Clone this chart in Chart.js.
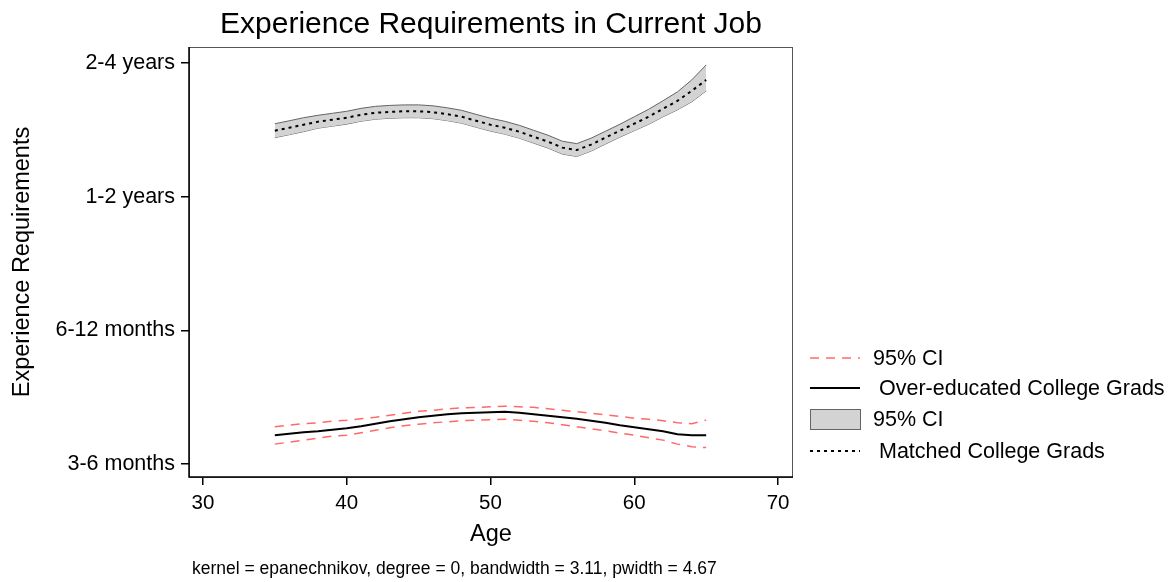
<!DOCTYPE html>
<html>
<head>
<meta charset="utf-8">
<script src="https://cdn.jsdelivr.net/npm/chart.js@4/dist/chart.umd.min.js"></script>
<style>
  html, body { margin: 0; padding: 0; background: #ffffff; }
  #wrap { position: relative; width: 1174px; height: 582px; }
  canvas { display: block; }
</style>
</head>
<body>
<div id="wrap"><canvas id="c" width="1174" height="582"></canvas></div>
<script>
// Local polynomial smooth of experience requirements by age
const ages = [35,36,37,38,39,40,41,42,43,44,45,46,47,48,49,50,51,52,53,54,55,56,57,58,59,60,61,62,63,64,65];

// Matched college grads: smoothed mean and 95% CI band
const matchedMean = [3.494,3.516,3.539,3.561,3.576,3.591,3.613,3.628,3.635,3.639,3.639,3.632,3.617,3.598,3.568,3.539,3.516,3.486,3.449,3.412,3.367,3.349,3.390,3.442,3.494,3.546,3.598,3.658,3.717,3.792,3.874];
const matchedHi   = [3.546,3.568,3.591,3.609,3.624,3.639,3.661,3.676,3.683,3.687,3.687,3.680,3.665,3.646,3.616,3.587,3.564,3.534,3.497,3.460,3.415,3.397,3.438,3.490,3.542,3.598,3.654,3.718,3.784,3.874,3.986];
const matchedLo   = [3.442,3.464,3.487,3.513,3.528,3.543,3.565,3.580,3.587,3.591,3.591,3.584,3.569,3.550,3.520,3.491,3.468,3.438,3.401,3.364,3.319,3.301,3.342,3.394,3.446,3.494,3.542,3.598,3.650,3.710,3.792];

// Over-educated college grads: smoothed mean and 95% CI
const overMean = [1.216,1.227,1.238,1.246,1.257,1.268,1.283,1.302,1.320,1.335,1.350,1.361,1.372,1.380,1.383,1.387,1.391,1.383,1.372,1.361,1.350,1.339,1.324,1.309,1.290,1.275,1.261,1.246,1.223,1.216,1.216];
const overHi   = [1.279,1.290,1.302,1.309,1.320,1.328,1.339,1.350,1.365,1.380,1.395,1.402,1.413,1.421,1.424,1.428,1.432,1.428,1.424,1.413,1.402,1.391,1.380,1.368,1.357,1.342,1.335,1.324,1.309,1.302,1.328];
const overLo   = [1.149,1.164,1.179,1.194,1.208,1.216,1.234,1.253,1.272,1.287,1.298,1.309,1.316,1.324,1.328,1.331,1.335,1.328,1.320,1.309,1.294,1.279,1.264,1.249,1.231,1.216,1.197,1.179,1.149,1.130,1.123];

// Axis ticks
const yTickValues = [1, 2, 3, 4];
const yTickLabels = ['3-6 months', '6-12 months', '1-2 years', '2-4 years'];
const xTickValues = [30, 40, 50, 60, 70];

const titleText = 'Experience Requirements in Current Job';
const xTitle = 'Age';
const yTitle = 'Experience Requirements';
const noteText = 'kernel = epanechnikov, degree = 0, bandwidth = 3.11, pwidth = 4.67';
const legendLabels = ['95% CI', ' Over-educated College Grads', '95% CI', ' Matched College Grads'];

const FONT = '"Liberation Sans", Arial, sans-serif';
const RED = 'rgb(255,105,105)';
const BAND_FILL = 'rgb(211,211,211)';
const BAND_EDGE = 'rgb(100,100,100)';

const pts = arr => ages.map((a, i) => ({ x: a, y: arr[i] }));

// Plot frame, title, notes and legend drawn around the chart area
const decor = {
  id: 'decor',
  afterDraw(chart) {
    const ctx = chart.ctx;
    const a = chart.chartArea;
    ctx.save();
    // outer frame of the plot region
    ctx.strokeStyle = '#555';
    ctx.lineWidth = 1;
    ctx.strokeRect(a.left + 0.5, a.top + 0.5, a.right - a.left - 1, a.bottom - a.top);
    // axis spines
    ctx.strokeStyle = '#000';
    ctx.lineWidth = 1.5;
    ctx.beginPath();
    ctx.moveTo(a.left, a.top);
    ctx.lineTo(a.left, a.bottom);
    ctx.lineTo(a.right, a.bottom);
    ctx.stroke();

    ctx.fillStyle = '#000';
    ctx.textBaseline = 'alphabetic';
    // title
    ctx.font = '30px ' + FONT;
    ctx.textAlign = 'center';
    ctx.fillText(titleText, (a.left + a.right) / 2, 33);
    // x title
    ctx.font = '23.5px ' + FONT;
    ctx.fillText(xTitle, (a.left + a.right) / 2, 541);
    // y title
    ctx.save();
    ctx.translate(29, (a.top + a.bottom) / 2);
    ctx.rotate(-Math.PI / 2);
    ctx.fillText(yTitle, 0, 0);
    ctx.restore();
    // note
    ctx.font = '17.5px ' + FONT;
    ctx.textAlign = 'left';
    ctx.fillText(noteText, 192, 574);

    // legend
    const lx = 810, lw = 50, tx = 873;
    const rows = [358, 388, 419, 451];
    ctx.font = '21.5px ' + FONT;
    // red dashed
    ctx.strokeStyle = RED; ctx.lineWidth = 1.5; ctx.setLineDash([9, 7]);
    ctx.beginPath(); ctx.moveTo(lx, rows[0]); ctx.lineTo(lx + lw, rows[0]); ctx.stroke();
    // solid black
    ctx.setLineDash([]); ctx.strokeStyle = '#000'; ctx.lineWidth = 2;
    ctx.beginPath(); ctx.moveTo(lx, rows[1]); ctx.lineTo(lx + lw, rows[1]); ctx.stroke();
    // gray box
    ctx.fillStyle = BAND_FILL; ctx.fillRect(lx, rows[2] - 10, lw, 20);
    ctx.strokeStyle = BAND_EDGE; ctx.lineWidth = 1; ctx.strokeRect(lx + 0.5, rows[2] - 10 + 0.5, lw, 20);
    // dotted
    ctx.strokeStyle = '#000'; ctx.lineWidth = 2; ctx.setLineDash([3, 4]);
    ctx.beginPath(); ctx.moveTo(lx, rows[3]); ctx.lineTo(lx + lw, rows[3]); ctx.stroke();
    ctx.setLineDash([]);
    ctx.fillStyle = '#000';
    ctx.textBaseline = 'middle';
    legendLabels.forEach((t, i) => ctx.fillText(t, tx, rows[i] + 1));
    ctx.restore();
  }
};

new Chart(document.getElementById('c'), {
  type: 'line',
  data: {
    datasets: [
      { data: pts(matchedLo), borderColor: BAND_EDGE, borderWidth: 1, pointRadius: 0, fill: false, tension: 0, order: 10 },
      { data: pts(matchedHi), borderColor: BAND_EDGE, borderWidth: 1, pointRadius: 0, fill: '-1', backgroundColor: BAND_FILL, tension: 0, order: 9 },
      { data: pts(matchedMean), borderColor: '#000', borderWidth: 2, borderDash: [3, 4], pointRadius: 0, fill: false, tension: 0, order: 1 },
      { data: pts(overHi), borderColor: RED, borderWidth: 1.5, borderDash: [9, 7], pointRadius: 0, fill: false, tension: 0, order: 2 },
      { data: pts(overLo), borderColor: RED, borderWidth: 1.5, borderDash: [9, 7], pointRadius: 0, fill: false, tension: 0, order: 2 },
      { data: pts(overMean), borderColor: '#000', borderWidth: 2, pointRadius: 0, fill: false, tension: 0, order: 1 }
    ]
  },
  options: {
    responsive: false,
    animation: false,
    events: [],
    layout: { padding: { left: 0, right: 381, top: 47, bottom: 0 } },
    plugins: { legend: { display: false }, tooltip: { enabled: false }, title: { display: false } },
    scales: {
      x: {
        type: 'linear',
        min: 29.03, max: 71.04,
        afterBuildTicks: s => { s.ticks = xTickValues.map(v => ({ value: v })); },
        afterFit: s => { s.height = 105; },
        grid: { display: true, drawOnChartArea: false, drawTicks: true, tickLength: 8, color: '#000', lineWidth: 1.5 },
        border: { display: false },
        ticks: { color: '#000', font: { family: FONT, size: 20.5 }, padding: 6, maxRotation: 0 }
      },
      y: {
        type: 'linear',
        min: 0.903, max: 4.12,
        afterBuildTicks: s => { s.ticks = yTickValues.map(v => ({ value: v })); },
        afterFit: s => { s.width = 189; },
        grid: { display: true, drawOnChartArea: false, drawTicks: true, tickLength: 8, color: '#000', lineWidth: 1.5 },
        border: { display: false },
        ticks: {
          color: '#000', font: { family: FONT, size: 21.5 }, padding: 6,
          callback: v => { const i = yTickValues.indexOf(v); return i >= 0 ? yTickLabels[i] : ''; }
        }
      }
    }
  },
  plugins: [decor]
});
</script>
</body>
</html>
